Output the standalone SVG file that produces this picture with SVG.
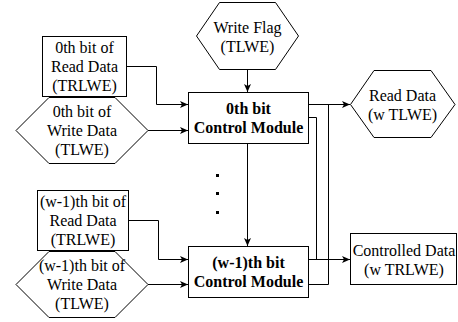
<svg xmlns="http://www.w3.org/2000/svg" width="458" height="322" viewBox="0 0 458 322">
<defs>
<style>
.shape{fill:#fff;stroke:#000;stroke-width:1}
.t{font-family:"Liberation Serif","Times New Roman",serif;font-size:16px;fill:#000;text-anchor:middle;dominant-baseline:central}
.b{font-weight:bold}
.edge{fill:none;stroke:#000;stroke-width:1}
</style>
<marker id="arr" markerUnits="userSpaceOnUse" markerWidth="9" markerHeight="8" refX="8" refY="4" orient="auto">
<path d="M0,0.5 L8,4 L0,7.5 L2,4 Z" fill="#000"/>
</marker>
</defs>
<rect width="458" height="322" fill="#fff"/>
<g id="connectors">
<path class="edge" d="M126.5 66.5 H156.5 V104.5 H188" marker-end="url(#arr)"/>
<path class="edge" d="M148 130.5 H188" marker-end="url(#arr)"/>
<path class="edge" d="M247.5 69.5 V92" marker-end="url(#arr)"/>
<path class="edge" d="M247.5 143.5 V246" marker-end="url(#arr)"/>
<path class="edge" d="M128.5 220.5 H158.5 V259.5 H188" marker-end="url(#arr)"/>
<path class="edge" d="M148 284.5 H188" marker-end="url(#arr)"/>
<path class="edge" d="M308.5 104.5 H350" marker-end="url(#arr)"/>
<path class="edge" d="M308.5 117.5 H316.5 V259.5"/>
<path class="edge" d="M308.5 259.5 H350" marker-end="url(#arr)"/>
<path class="edge" d="M308.5 284.5 H328.5 V104.5"/>
</g>
<g id="read0">
<rect class="shape" x="42.5" y="36.5" width="84" height="60"/>
<text class="t" x="84.5" y="47.5">0th bit of</text>
<text class="t" x="84.5" y="66.5">Read Data</text>
<text class="t" x="84.5" y="85.5">(TRLWE)</text>
</g>
<g id="write0">
<polygon class="shape" points="16,130.5 49,97.5 115,97.5 148,130.5 115,163.5 49,163.5"/>
<text class="t" x="82" y="111.5">0th bit of</text>
<text class="t" x="82" y="130.5">Write Data</text>
<text class="t" x="82" y="149.5">(TLWE)</text>
</g>
<g id="writeflag">
<polygon class="shape" points="196.5,36 219.5,2.5 275.5,2.5 298.5,36 275.5,69.5 219.5,69.5"/>
<text class="t" x="247.5" y="27">Write Flag</text>
<text class="t" x="247.5" y="46">(TLWE)</text>
</g>
<g id="control0">
<rect class="shape" x="188.5" y="92.5" width="120" height="51"/>
<text class="t b" x="248.5" y="108.8">0th bit</text>
<text class="t b" x="248.5" y="127.2">Control Module</text>
</g>
<g id="readdata">
<polygon class="shape" points="350.5,104.5 374,70.5 431,70.5 455,104.5 431,137.5 374,137.5"/>
<text class="t" x="402.5" y="95.5">Read Data</text>
<text class="t" x="402.5" y="114.5">(w TLWE)</text>
</g>
<g id="dots">
<rect x="216" y="174" width="3" height="3" fill="#000"/>
<rect x="216" y="192" width="3" height="3" fill="#000"/>
<rect x="216" y="211" width="3" height="3" fill="#000"/>
</g>
<g id="read1">
<rect class="shape" x="37.5" y="190.5" width="91" height="60"/>
<text class="t" x="83" y="201.5">(w-1)th bit of</text>
<text class="t" x="83" y="220.5">Read Data</text>
<text class="t" x="83" y="239.5">(TRLWE)</text>
</g>
<g id="write1">
<polygon class="shape" points="16,284.5 49,251.5 115,251.5 148,284.5 115,317.5 49,317.5"/>
<text class="t" x="82" y="265.5">(w-1)th bit of</text>
<text class="t" x="82" y="284.5">Write Data</text>
<text class="t" x="82" y="303.5">(TLWE)</text>
</g>
<g id="control1">
<rect class="shape" x="188.5" y="246.5" width="120" height="51"/>
<text class="t b" x="248.5" y="262.8">(w-1)th bit</text>
<text class="t b" x="248.5" y="281.2">Control Module</text>
</g>
<g id="controlled">
<rect class="shape" x="350.5" y="233.5" width="106" height="51"/>
<text class="t" x="404" y="250">Controlled Data</text>
<text class="t" x="404" y="269">(w TRLWE)</text>
</g>
</svg>
